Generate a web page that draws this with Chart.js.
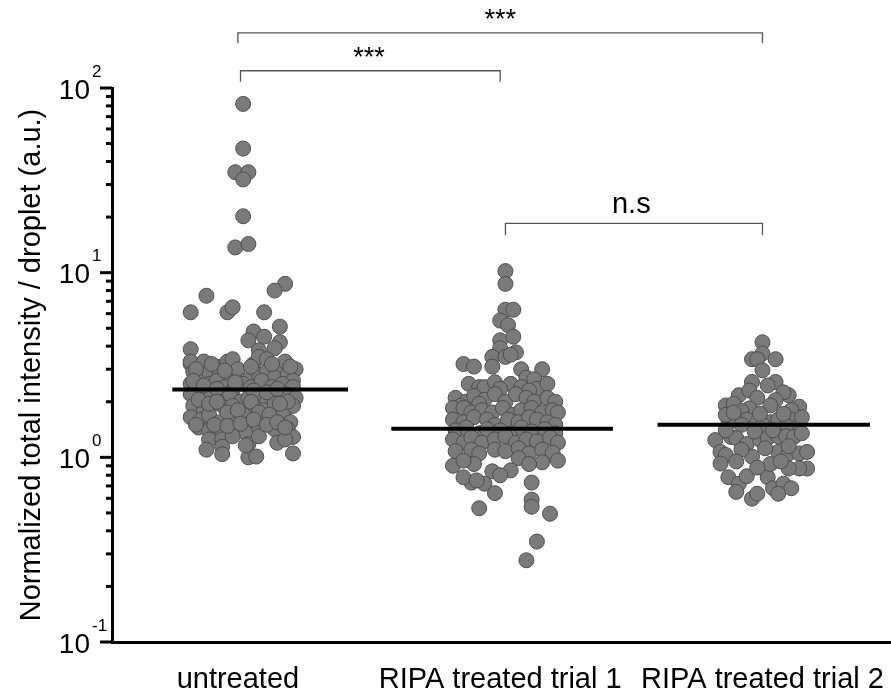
<!DOCTYPE html>
<html lang="en">
<head>
  <meta charset="UTF-8">
  <title>Normalized total intensity per droplet</title>
  <script src="https://cdn.jsdelivr.net/npm/chart.js"></script>
  <style>
    body { margin: 0; background: #fff; }
  </style>
</head>
<body>
  <canvas id="myChart" width="891" height="696"></canvas>

  <script>
    // categories on the x axis
    const categories = ['untreated', 'RIPA treated trial 1', 'RIPA treated trial 2'];

    // each point: [horizontal jitter in % of category spacing, value (a.u.)]
    const untreated = [
      [2, 82], [2, 47], [-1, 35], [4, 35], [2, 32], [2, 20.2], [-1, 13.7], [4, 14.3],
      [18, 8.7], [14, 8.0], [-12, 7.5], [-18, 6.1], [-4, 6.1], [-2, 6.5], [10, 6.1],
      [16, 5.1], [6, 4.8], [4, 4.3], [10, 4.5], [16, 4.2], [14, 3.9], [8, 3.8],
      [-18, 3.85], [-18, 3.2],
      [-18, 3.3], [-13, 3.3], [-8, 3.1], [-4, 3.3], [-2, 3.4], [6, 3.2], [8, 3.5], [11, 3.4], [16, 3.0], [18, 3.3], [22, 3.0],
      [-17, 2.9], [-14, 2.7], [-11, 2.9], [-7, 2.8], [-3, 2.6], [0, 3.0], [3, 2.6], [8, 2.8], [11, 2.9], [14, 2.7], [19, 2.8], [21, 2.6],
      [-18, 2.5], [-15, 2.3], [-11, 2.5], [-8, 2.6], [-5, 2.4], [-2, 2.3], [2, 2.5], [5, 2.4], [9, 2.6], [13, 2.4], [17, 2.5], [21, 2.4],
      [-18, 2.2], [-14, 2.0], [-10, 2.2], [-6, 2.1], [-3, 2.2], [1, 2.0], [4, 2.1], [7, 2.2], [11, 2.0], [14, 2.1], [18, 2.2], [22, 2.1],
      [-17, 1.9], [-13, 1.8], [-9, 1.95], [-5, 1.85], [-2, 1.9], [2, 1.7], [6, 1.9], [10, 1.8], [14, 1.95], [18, 1.8], [21, 1.9],
      [-18, 1.65], [-14, 1.6], [-11, 1.7], [-7, 1.55], [-2, 1.6], [2, 1.7], [5, 1.55], [9, 1.65], [13, 1.6], [17, 1.7], [20, 1.55],
      [-15, 1.45], [-11, 1.4], [-6, 1.38], [-2, 1.42], [3, 1.35], [8, 1.45], [14, 1.42], [19, 1.42], [21, 1.29],
      [-11, 1.25], [-6, 1.25], [-2, 1.3], [4, 1.18], [8, 1.3], [15, 1.2], [18, 1.25],
      [-12, 1.10], [-6, 1.14], [4, 1.0], [7, 1.01], [21, 1.05], [3, 1.16], [-6, 1.04],
      [-16, 3.0], [-10, 3.2], [-5, 2.95], [5, 3.1], [13, 3.2], [20, 3.1],
      [-17, 2.6], [-13, 2.45], [-8, 2.35], [-1, 2.55], [6, 2.3], [11, 2.25], [15, 2.35], [19, 2.0],
      [-15, 2.05], [-11, 1.95], [-8, 2.0], [-4, 1.75], [0, 1.8], [5, 2.0], [8, 1.75], [12, 1.7], [16, 1.95],
      [-16, 1.5], [-9, 1.5], [-4, 1.48], [1, 1.52], [6, 1.6], [11, 1.5], [15, 1.55], [18, 1.45]
    ];

    const ripaTrial1 = [
      [2, 10.2], [2, 8.7], [2, 6.3], [5, 6.3], [0, 5.5], [3, 5.2], [0, 4.3], [5, 4.5], [0, 3.9],
      [-3, 3.5], [2, 3.5], [6, 3.7], [4, 3.6], [-14, 3.2], [-10, 3.1], [-3, 3.1], [16, 3.0], [8, 3.0],
      [10, 2.7], [13, 2.65],
      [-12, 2.5], [-8, 2.4], [-6, 2.4], [-2, 2.55], [4, 2.5], [14, 2.35], [18, 2.5], [0, 2.35], [8, 2.4], [11, 2.3],
      [-17, 2.1], [-13, 2.0], [-10, 2.15], [-6, 2.05], [-2, 2.2], [2, 2.0], [6, 2.2], [10, 2.1], [13, 2.0], [18, 2.1], [21, 2.0], [-15, 1.9], [-8, 1.95],
      [-18, 1.85], [-14, 1.85], [-11, 1.75], [-7, 1.8], [-3, 1.75], [1, 1.85], [5, 1.7], [8, 1.8], [12, 1.85], [16, 1.75], [20, 1.8], [22, 1.75],
      [-18, 1.6], [-14, 1.55], [-10, 1.65], [-5, 1.6], [-2, 1.5], [3, 1.6], [7, 1.55], [11, 1.65], [14, 1.6], [18, 1.55], [21, 1.5],
      [-17, 1.4], [-13, 1.45], [-8, 1.35], [-5, 1.42], [0, 1.4], [4, 1.35], [8, 1.45], [12, 1.38], [17, 1.42], [21, 1.35],
      [-18, 1.25], [-14, 1.2], [-11, 1.28], [-7, 1.2], [-2, 1.25], [2, 1.3], [6, 1.2], [10, 1.25], [14, 1.22], [19, 1.28], [22, 1.2],
      [-17, 1.08], [-11, 1.1], [-8, 1.05], [-2, 1.1], [2, 1.08], [7, 1.12], [11, 1.05], [16, 1.1], [20, 1.06],
      [-18, 0.9], [-10, 0.92], [7, 0.99], [16, 0.94], [22, 0.96], [4, 0.85], [-3, 0.84], [-14, 0.96], [11, 0.92],
      [-11, 0.73], [-6, 0.72], [-2, 0.64], [12, 0.73], [-8, 0.53], [12, 0.59], [12, 0.54], [19, 0.495],
      [14, 0.35], [10, 0.277], [-14, 0.78], [-9, 0.75], [0, 0.8]
    ];

    const ripaTrial2 = [
      [0, 4.2], [-4, 3.4], [0, 3.65], [5, 3.4], [-2, 3.4], [0, 2.96], [-4, 2.56], [5, 2.56], [2, 2.45],
      [-9, 2.17], [-5, 2.3], [10, 2.17], [8, 2.25], [-14, 1.91], [-11, 1.95], [-2, 2.1], [14, 1.88],
      [11, 1.8], [5, 2.04], [3, 1.91], [-5, 1.84], [-8, 1.78],
      [-13, 1.6], [-10, 1.58], [-6, 1.6], [-2, 1.55], [3, 1.55], [6, 1.6], [11, 1.6], [13, 1.45], [-8, 1.5], [0, 1.5], [9, 1.48],
      [-12, 1.29], [-10, 1.27], [-6, 1.18], [-1, 1.25], [2, 1.27], [6, 1.3], [9, 1.3], [12, 1.29],
      [-18, 1.24], [-16, 1.07], [-14, 1.03], [-16, 0.925], [-4, 1.01], [6, 1.07], [10, 1.05], [14, 1.05], [17, 1.07],
      [17, 0.87], [14, 0.87], [10, 0.87], [-13, 0.78], [-9, 0.72], [-6, 0.79], [2, 0.78], [4, 0.68], [8, 0.72],
      [11, 0.68], [6, 0.635], [-10, 0.65], [-4, 0.597], [-2, 0.635],
      [-14, 1.7], [-11, 1.75], [-1, 1.72], [8, 1.72], [15, 1.65], [-3, 1.38], [4, 1.4], [-14, 1.4], [15, 1.35],
      [10, 1.15], [-8, 1.1], [1, 1.12], [-10, 0.95], [3, 0.92], [-2, 0.88], [7, 0.95]
    ];

    // median of each group
    const medians = [2.33, 1.43, 1.50];

    // significance comparisons: [from category, to category, label]
    const comparisons = [
      [0, 2, '***'],
      [0, 1, '***'],
      [1, 2, 'n.s']
    ];

    // y axis decades and their labels
    const yDecades = [-1, 0, 1, 2];
    const yExponents = ['-1', '0', '1', '2'];

    const FONT = '"Liberation Sans", Arial, sans-serif';

    function toPoints(pairs, catIndex) {
      return pairs.map(([j, v]) => ({ x: catIndex + j / 100, y: v }));
    }

    // where each median bar starts / ends (relative to category centre)
    const medianSpan = [[-0.25, 0.42], [-0.415, 0.43], [-0.40, 0.41]];
    // bracket heights (value units): [horizontal level, end of drop]
    const bracketLevels = [[199, 175], [124, 108], [18.5, 16]];
    const bracketStart = [0, 0.01, 0.02];

    const medianSets = medians.map((m, i) => ({
      type: 'scatter',
      data: [{ x: i + medianSpan[i][0], y: m }, { x: i + medianSpan[i][1], y: m }],
      showLine: true,
      borderColor: '#000',
      borderWidth: 4,
      pointRadius: 0
    }));

    const bracketSets = comparisons.map(([a, b], i) => {
      const [lvl, drop] = bracketLevels[i];
      const x0 = a + bracketStart[i];
      return {
        type: 'scatter',
        data: [{ x: x0, y: drop }, { x: x0, y: lvl }, { x: b, y: lvl }, { x: b, y: drop }],
        showLine: true,
        borderColor: '#555',
        borderWidth: 1.3,
        pointRadius: 0,
        clip: false
      };
    });

    const groupSets = [untreated, ripaTrial1, ripaTrial2].map((g, i) => ({
      type: 'scatter',
      data: toPoints(g, i),
      backgroundColor: '#7a7a7a',
      borderColor: '#505050',
      borderWidth: 1,
      pointRadius: 7.5
    }));

    // minor ticks, exponent labels and significance labels
    const extras = {
      id: 'extras',
      afterDraw(chart) {
        const ctx = chart.ctx;
        const ys = chart.scales.y;
        const xs = chart.scales.x;
        const axisX = chart.chartArea.left;
        ctx.save();
        ctx.strokeStyle = '#000';
        ctx.lineWidth = 3;
        yDecades.forEach(d => {
          for (let m = 1; m <= 9; m++) {
            const v = m * Math.pow(10, d);
            if (v > ys.max * 1.0001) break;
            const py = ys.getPixelForValue(v);
            const len = m === 1 ? 12 : 6;
            ctx.beginPath();
            ctx.moveTo(axisX - len, py);
            ctx.lineTo(axisX, py);
            ctx.stroke();
          }
        });

        ctx.fillStyle = '#000';
        ctx.textBaseline = 'middle';
        yDecades.forEach((d, i) => {
          const py = ys.getPixelForValue(Math.pow(10, d));
          ctx.font = '28px ' + FONT;
          ctx.textAlign = 'right';
          ctx.fillText('10', 90, py + 3);
          ctx.font = '17px ' + FONT;
          ctx.textAlign = 'left';
          ctx.fillText(yExponents[i], 92, py - 16);
        });

        ctx.textAlign = 'center';
        comparisons.forEach(([a, b, label], i) => {
          const mid = (xs.getPixelForValue(a) + xs.getPixelForValue(b)) / 2;
          const py = ys.getPixelForValue(bracketLevels[i][0]);
          if (label === 'n.s') {
            ctx.font = '29px ' + FONT;
            ctx.textBaseline = 'alphabetic';
            ctx.fillText(label, mid, py - 10);
          } else {
            ctx.font = '27px ' + FONT;
            ctx.textBaseline = 'middle';
            ctx.fillText(label, mid, py - 12);
          }
        });
        ctx.restore();
      }
    };

    const ctx = document.getElementById('myChart').getContext('2d');
    new Chart(ctx, {
      type: 'scatter',
      data: {
        datasets: [...medianSets, ...bracketSets, ...groupSets]
      },
      options: {
        responsive: false,
        animation: false,
        layout: { autoPadding: false, padding: { top: 88, left: 0, right: 0, bottom: 0 } },
        plugins: {
          legend: { display: false },
          tooltip: { enabled: false }
        },
        scales: {
          x: {
            type: 'linear',
            min: -0.48,
            max: 2.49,
            afterBuildTicks: s => { s.ticks = categories.map((c, i) => ({ value: i })); },
            afterFit: s => {
              s.height = 54;
              s.paddingLeft = 0;
              s.paddingRight = 0;
            },
            grid: { display: false, drawTicks: true, tickLength: 21 },
            border: { display: true, color: '#000', width: 3 },
            ticks: {
              callback: v => categories[v],
              font: { size: 29, family: FONT },
              color: '#000',
              padding: 0,
              maxRotation: 0,
              autoSkip: false
            }
          },
          y: {
            type: 'logarithmic',
            min: 0.1,
            max: 100,
            afterFit: s => {
              s.width = 112;
              s.paddingTop = 0;
              s.paddingBottom = 0;
            },
            grid: { display: false, drawTicks: false },
            border: { display: true, color: '#000', width: 3 },
            ticks: { display: false },
            title: {
              display: true,
              text: 'Normalized total intensity / droplet (a.u.)',
              font: { size: 29, family: FONT },
              color: '#000',
              padding: { top: 15, bottom: 0 }
            }
          }
        }
      },
      plugins: [extras]
    });
  </script>
</body>
</html>
